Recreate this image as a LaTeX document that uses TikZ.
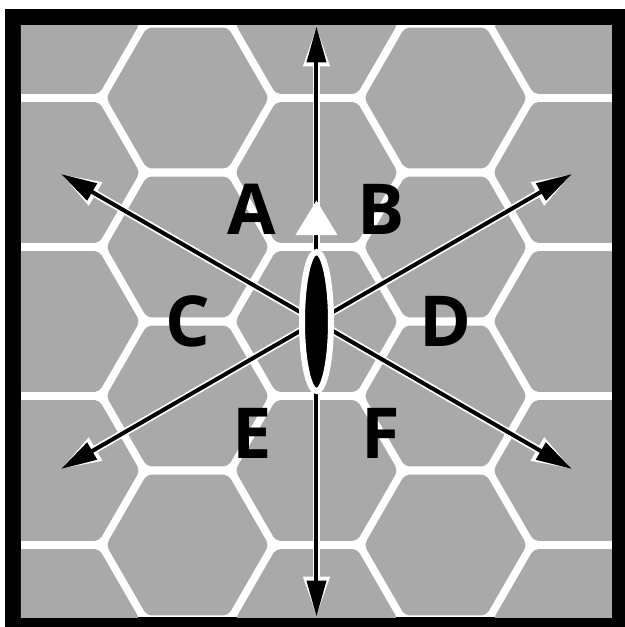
\documentclass[tikz,border=0pt]{standalone}
\usepackage{fontspec}
\newfontfamily\hexfont{Open Sans}
\usetikzlibrary{arrows.meta,shapes.geometric}
\definecolor{HexGray}{RGB}{169,169,169}
\tikzset{
  hx/cell/.style={
    fill=HexGray,
    rounded corners=0.1cm
  },
  hx/arrow/.style={
    -{Triangle[length=0.72cm,width=0.38cm]},
    line width=0.08cm,
    draw=black,
    preaction={draw=white, line width=0.15cm, -{Triangle[length=0.8cm,width=0.5cm]}}
  },
  hx/lens/.style={
    ellipse,
    draw=white,
    fill=black,
    line width=0.12cm,
    minimum width=0.58cm,
    minimum height=2.78cm,
    inner sep=0pt
  },
  hx/letter/.style={font=\hexfont\bfseries\fontsize{40}{40}\selectfont, text=black, inner sep=0pt}
}

\begin{document}
\begin{tikzpicture}[x=0.02cm,y=0.02cm]
  \useasboundingbox (-316.5,-305.5) rectangle (308.5,321.5);
  \fill[white] (-316.5,-305.5) rectangle (308.5,321.5);
  \fill[black] (-311.5,-305.5) rectangle (308.5,312.5);
  \begin{scope}
    \clip (-295.5,-295.5) rectangle (295.5,296.5);
    \fill[white] (-295.5,-295.5) rectangle (295.5,296.5);
    \foreach \i/\off in {-2/0,-1/74.5,0/0,1/74.5,2/0}
      \foreach \j in {-3,...,2}
        \fill[hx/cell] ({\i*129},{\j*149+\off}) +(0:81.4) -- +(60:81.4) -- +(120:81.4)
          -- +(180:81.4) -- +(240:81.4) -- +(300:81.4) -- cycle;
  \end{scope}
  \coordinate (o) at (0,0);
  \foreach \a/\n in {90/N,30/NE,150/NW,210/SW,270/S,330/SE}
    \coordinate (tip\n) at (\a:295);
  \foreach \n in {N,NE,NW,SW,S,SE}
    \draw[hx/arrow] (o) -- (tip\n);
  \fill[white] (0,121) -- (-21,86.5) -- (21,86.5) -- cycle;
  \node[hx/lens] (eye) at (o) {};
  \node[hx/letter] (A) at (120:129) {A};
  \node[hx/letter] (B) at (60:129) {B};
  \node[hx/letter] (C) at (180:129) {C};
  \node[hx/letter] (D) at (0:129) {D};
  \node[hx/letter] (E) at (240:129) {E};
  \node[hx/letter] (F) at (300:129) {F};
\end{tikzpicture}
\end{document}
